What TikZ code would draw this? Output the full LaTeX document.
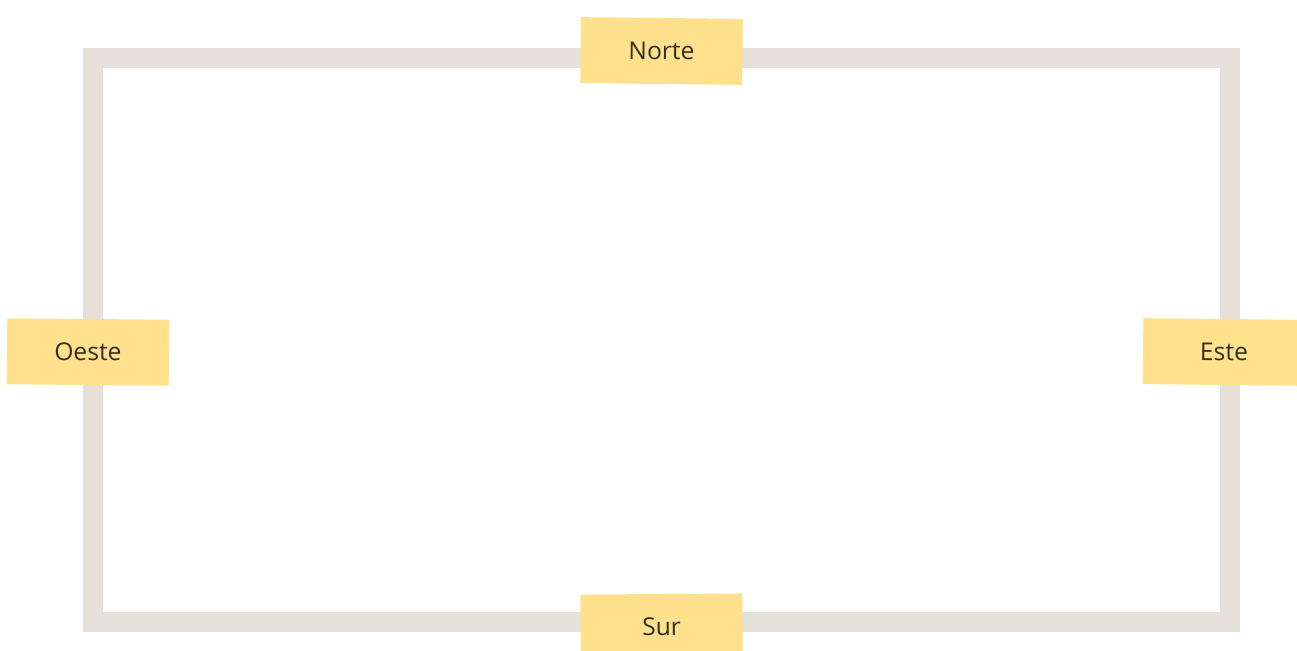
\documentclass[tikz,border=0pt]{standalone}
\usepackage{fontspec}
\setmainfont{Open Sans}
\usetikzlibrary{calc}
\definecolor{FrameClr}{rgb}{0.9,0.88,0.85}
\definecolor{NoteClr}{rgb}{1,0.88,0.55}
\definecolor{TextClr}{rgb}{0.2,0.18,0.12}

\begin{document}
\begin{tikzpicture}[x=0.02cm,y=-0.02cm,
  note/.style={fill=NoteClr,text=TextClr,minimum width=3.24cm,minimum height=1.32cm,
    inner sep=0pt,font=\fontsize{14}{17}\selectfont}]
\useasboundingbox (0,0) rectangle (1297,651);

\coordinate (NW) at (93,58);
\coordinate (NE) at (1230,58);
\coordinate (SE) at (1230,622);
\coordinate (SW) at (93,622);

\draw[FrameClr,line width=0.4cm] (NW) -- (NE) -- (SE) -- (SW) -- cycle;

\begin{scope}
\clip (0,0) rectangle (1297,651);
\node[note,rotate=-0.6] (norte) at ($(NW)!0.5!(NE)+(0,-7)$) {Norte};
\node[note,rotate=0.4] (sur) at ($(SW)!0.5!(SE)+(0,5)$) {Sur};
\node[note,rotate=-0.5] (oeste) at ($(NW)!0.5!(SW)+(-5,12)$) {Oeste};
\node[note,rotate=-0.6] (este) at ($(NE)!0.5!(SE)+(-6,12)$) {Este};
\end{scope}

\end{tikzpicture}
\end{document}
